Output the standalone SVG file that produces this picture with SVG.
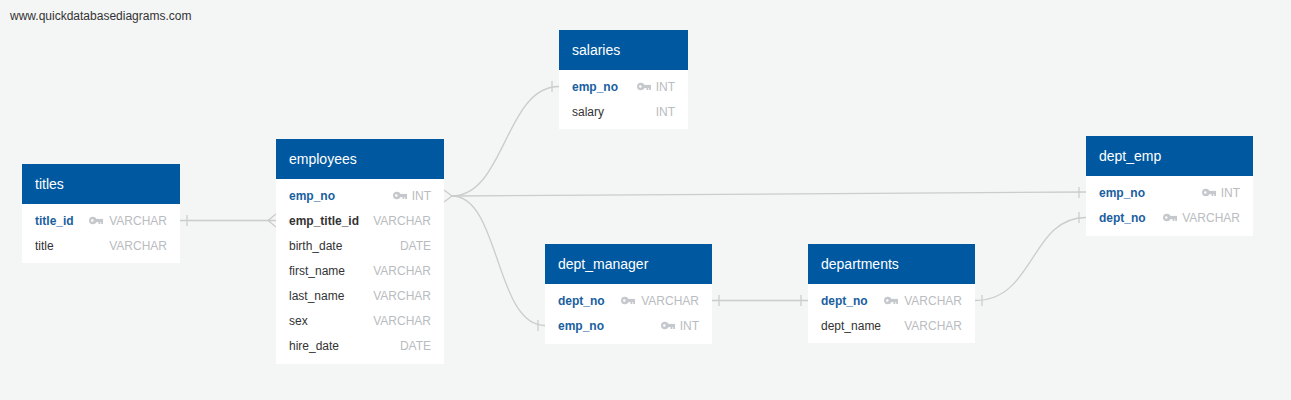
<svg xmlns="http://www.w3.org/2000/svg" xmlns:xlink="http://www.w3.org/1999/xlink" width="1291" height="400" viewBox="0 0 1291 400">
<style>
.bg{fill:#f4f5f5}
.hdr{fill:#0059a0}
.body{fill:#ffffff}
.tt{font-family:"Liberation Sans",Arial,sans-serif;font-size:14px;fill:#ffffff}
.f{font-family:"Liberation Sans",Arial,sans-serif;font-size:12px;fill:#333333}
.pk{fill:#19609f;font-weight:bold}
.fk{font-weight:bold}
.ty{font-family:"Liberation Sans",Arial,sans-serif;font-size:12px;fill:#b9bcc0;text-anchor:end}
.wm{font-family:"Liberation Sans",Arial,sans-serif;font-size:12px;fill:#333333}
.c{fill:none;stroke:#cccccc;stroke-width:1.3}
</style>
<defs>
<g id="key">
<circle cx="3.8" cy="0" r="3.8" fill="#c5c8cc"/>
<circle cx="3.3" cy="0" r="1.2" fill="#ffffff"/>
<rect x="6" y="-1.6" width="8" height="3.2" fill="#c5c8cc"/>
<rect x="9.5" y="0" width="1.8" height="3.5" fill="#c5c8cc"/>
<rect x="12.2" y="0" width="1.8" height="3.5" fill="#c5c8cc"/>
</g>
</defs>
<rect class="bg" x="0" y="0" width="1291" height="400"/>
<text class="wm" x="10" y="20">www.quickdatabasediagrams.com</text>

<g id="connectors">
<!-- titles - employees -->
<path class="c" d="M180,220.5 L276,220.5"/>
<path class="c" d="M187,215 L187,226"/>
<path class="c" d="M276,214 L268,220.5 L276,227"/>
<!-- employees crow's foot -->
<path class="c" d="M444,190 L452,196 L444,202"/>
<!-- employees - salaries -->
<path class="c" d="M452,196 C505,196 505,86.5 559,86.5"/>
<path class="c" d="M552,81 L552,92"/>
<!-- employees - dept_emp -->
<path class="c" d="M452,196 L1086,192"/>
<path class="c" d="M1079,187 L1079,198"/>
<!-- employees - dept_manager -->
<path class="c" d="M452,196 C500,196 495,325.5 545,325.5"/>
<path class="c" d="M538,320 L538,331"/>
<!-- dept_manager - departments -->
<path class="c" d="M712,300.5 L808,300.5"/>
<path class="c" d="M719,295 L719,306"/>
<path class="c" d="M801,295 L801,306"/>
<!-- departments - dept_emp -->
<path class="c" d="M975,300.5 C1035,300.5 1030,217.5 1086,217.5"/>
<path class="c" d="M982,295 L982,306"/>
<path class="c" d="M1079,212 L1079,223"/>
</g>

<g id="titles">
<rect class="hdr" x="22" y="164" width="158" height="40"/>
<rect class="body" x="22" y="204" width="158" height="59"/>
<text class="tt" x="35" y="189">titles</text>
<text class="f pk" x="35" y="225">title_id</text>
<use xlink:href="#key" x="89" y="220.5"/>
<text class="ty" x="167" y="225">VARCHAR</text>
<text class="f" x="35" y="250">title</text>
<text class="ty" x="167" y="250">VARCHAR</text>
</g>

<g id="employees">
<rect class="hdr" x="276" y="139" width="168" height="40"/>
<rect class="body" x="276" y="179" width="168" height="185"/>
<text class="tt" x="289" y="164">employees</text>
<text class="f pk" x="289" y="200">emp_no</text>
<use xlink:href="#key" x="393" y="195.5"/>
<text class="ty" x="431" y="200">INT</text>
<text class="f fk" x="289" y="225">emp_title_id</text>
<text class="ty" x="431" y="225">VARCHAR</text>
<text class="f" x="289" y="250">birth_date</text>
<text class="ty" x="431" y="250">DATE</text>
<text class="f" x="289" y="275">first_name</text>
<text class="ty" x="431" y="275">VARCHAR</text>
<text class="f" x="289" y="300">last_name</text>
<text class="ty" x="431" y="300">VARCHAR</text>
<text class="f" x="289" y="325">sex</text>
<text class="ty" x="431" y="325">VARCHAR</text>
<text class="f" x="289" y="350">hire_date</text>
<text class="ty" x="431" y="350">DATE</text>
</g>

<g id="salaries">
<rect class="hdr" x="559" y="30" width="129" height="40"/>
<rect class="body" x="559" y="70" width="129" height="59"/>
<text class="tt" x="572" y="55">salaries</text>
<text class="f pk" x="572" y="91">emp_no</text>
<use xlink:href="#key" x="637" y="86.5"/>
<text class="ty" x="675" y="91">INT</text>
<text class="f" x="572" y="116">salary</text>
<text class="ty" x="675" y="116">INT</text>
</g>

<g id="dept_manager">
<rect class="hdr" x="545" y="244" width="167" height="40"/>
<rect class="body" x="545" y="284" width="167" height="60"/>
<text class="tt" x="558" y="269">dept_manager</text>
<text class="f pk" x="558" y="305">dept_no</text>
<use xlink:href="#key" x="621" y="300.5"/>
<text class="ty" x="699" y="305">VARCHAR</text>
<text class="f pk" x="558" y="330">emp_no</text>
<use xlink:href="#key" x="661" y="325.5"/>
<text class="ty" x="699" y="330">INT</text>
</g>

<g id="departments">
<rect class="hdr" x="808" y="244" width="167" height="40"/>
<rect class="body" x="808" y="284" width="167" height="59"/>
<text class="tt" x="821" y="269">departments</text>
<text class="f pk" x="821" y="305">dept_no</text>
<use xlink:href="#key" x="884" y="300.5"/>
<text class="ty" x="962" y="305">VARCHAR</text>
<text class="f" x="821" y="330">dept_name</text>
<text class="ty" x="962" y="330">VARCHAR</text>
</g>

<g id="dept_emp">
<rect class="hdr" x="1086" y="136" width="167" height="40"/>
<rect class="body" x="1086" y="176" width="167" height="60"/>
<text class="tt" x="1099" y="161">dept_emp</text>
<text class="f pk" x="1099" y="197">emp_no</text>
<use xlink:href="#key" x="1202" y="192.5"/>
<text class="ty" x="1240" y="197">INT</text>
<text class="f pk" x="1099" y="222">dept_no</text>
<use xlink:href="#key" x="1163" y="217.5"/>
<text class="ty" x="1240" y="222">VARCHAR</text>
</g>
</svg>
